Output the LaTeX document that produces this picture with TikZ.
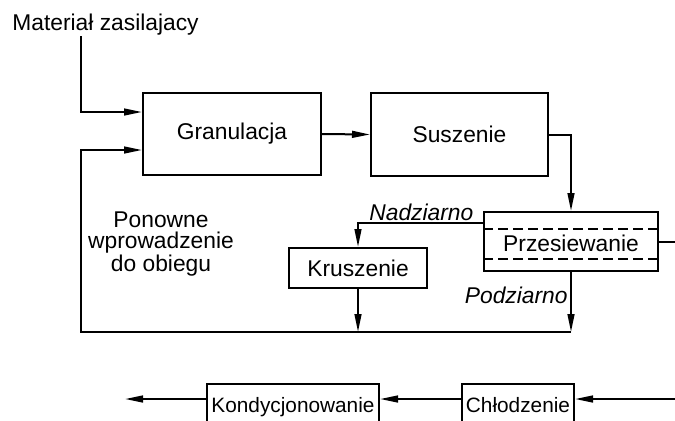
\documentclass[tikz,border=0pt]{standalone}
\usepackage{fontspec}
\setmainfont{Liberation Sans}
\usetikzlibrary{arrows.meta,calc}
\begin{document}
\begin{tikzpicture}[x=0.5pt,y=-0.5pt,
  mainfont/.style={font=\fontsize{11.4}{13}\selectfont},
  box/.style={draw,line width=1pt,inner sep=0pt,mainfont},
  lbl/.style={inner sep=0pt,mainfont},
  itlbl/.style={inner sep=0pt,font=\fontsize{11.4}{13}\selectfont\itshape},
  lowbox/.style={draw,line width=1pt,anchor=north,inner sep=0pt,text height=14pt,text depth=14pt,font=\fontsize{10.4}{12}\selectfont},
  arr/.style={line width=1pt,-{Triangle[length=9pt,width=3.4pt]}},
  ln/.style={line width=1pt}]
\useasboundingbox (0,0) rectangle (675,420);
\clip (0,0) rectangle (675,420);
\fill[white] (0,0) rectangle (675,420);

% boxes
\node[box,minimum width=89pt,minimum height=41pt] (gran) at (232,134) {Granulacja};
\node[box,minimum width=88.5pt,minimum height=41.5pt] (sus) at (459.5,134.5) {Suszenie};
\node[box,minimum width=87pt,minimum height=29.5pt] (prz) at (571,241.5) {};
\node[lbl] (przt) at (571,243) {Przesiewanie};
\node[box,minimum width=69pt,minimum height=20pt] (kru) at (358,268) {Kruszenie};
\node[lowbox,minimum width=86pt] (kond) at (293,383) {Kondycjonowanie};
\node[lowbox,minimum width=56pt] (chl) at (518,383) {Chłodzenie};

% dashed lines in the screen box
\draw[dash pattern=on 5pt off 2.5pt,line width=0.9pt] ([yshift=6.25pt]prz.west) -- ([yshift=6.25pt]prz.east);
\draw[dash pattern=on 5pt off 2.5pt,line width=0.9pt] ([yshift=-8.75pt]prz.west) -- ([yshift=-8.75pt]prz.east);

% labels
\node[lbl,anchor=base west] (feed) at (12,30) {Materiał zasilajacy};
\node[lbl,align=center,font=\fontsize{11.4}{10.4}\selectfont] (pon) at (161,244) {Ponowne\\wprowadzenie\\do obiegu};
\node[itlbl,anchor=base west] (nad) at (369,220) {Nadziarno};
\node[itlbl,anchor=base east] (pod) at (568,303) {Podziarno};

% coordinates
\coordinate (ftop) at (81,36);
\coordinate (ret) at (81,332);
\coordinate (redge) at (675,241.5);
\coordinate (rin) at (675,399);
\coordinate (outl) at (125,399);

% connectors
\draw[arr] (ftop) |- ([yshift=11pt]gran.west);
\draw[arr] (gran.east) -- (sus.west);
\draw[arr] (sus.east) -| (prz.north);
\draw[arr] ([yshift=9.25pt]prz.west) -| (kru.north);
\draw[ln] (prz.east) -- (redge);
\draw[arr] (kru.south) -- (kru.south |- ret);
\draw[arr] (prz.south) -- (prz.south |- ret);
\draw[arr] (prz.south |- ret) -- (ret) |- ([yshift=-8pt]gran.west);

\draw[arr] (rin) -- (rin -| chl.east);
\draw[arr] (rin -| chl.west) -- (rin -| kond.east);
\draw[arr] (rin -| kond.west) -- (outl);
\end{tikzpicture}
\end{document}
